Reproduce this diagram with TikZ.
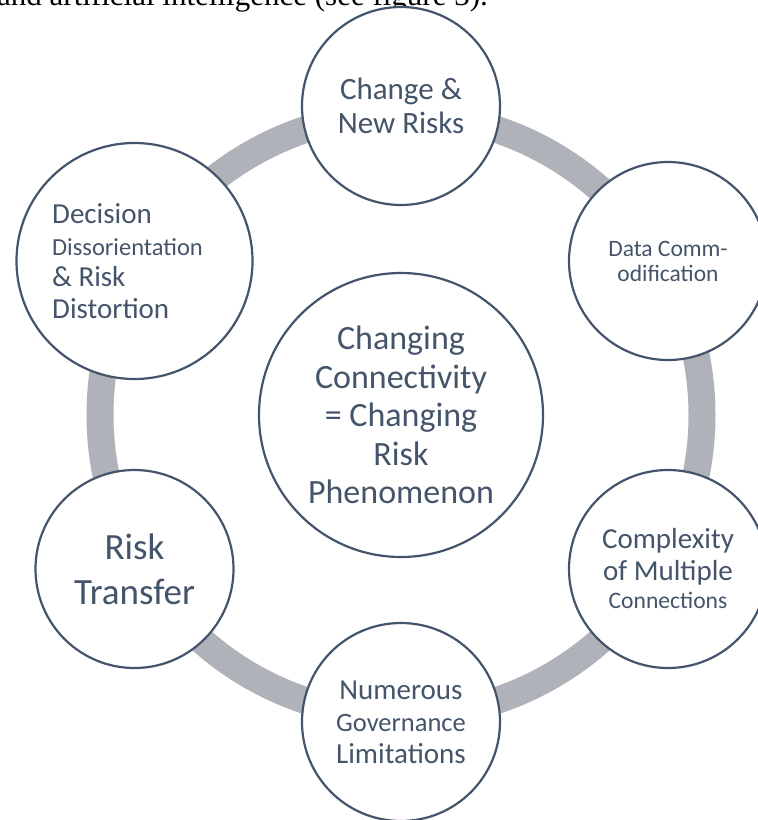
\documentclass[tikz,border=0pt]{standalone}
\usepackage{fontspec}
\setmainfont{Carlito}
\newfontfamily\bodyserif{Liberation Serif}
\definecolor{slate}{HTML}{44546A}
\definecolor{ringgray}{HTML}{AFB2B8}

\begin{document}
\begin{tikzpicture}
  [x=1pt,y=-1pt,
   ring/.style={draw=ringgray,line width=27pt},
   bubble/.style={circle,draw=slate,line width=2.2pt,fill=white,text=slate,align=center,
     inner sep=0pt,minimum size=198pt,font=\fontsize{29}{32}\selectfont}]

  \useasboundingbox (0,0) rectangle (758,820);
  \clip (0,0) rectangle (758,820);

  % running text of the page, cut at the top
  \node[anchor=base east,inner sep=0pt,font=\bodyserif\fontsize{31}{36}\selectfont] (intro) at (488,5)
    {and artificial intelligence (see figure 3).};

  \node[bubble,minimum size=284pt,font=\fontsize{34}{38.5}\selectfont] (hub) at (401,415)
    {Changing\\Connectivity\\= Changing\\Risk\\Phenomenon};

  \draw[ring] (hub.center) circle[radius=301pt];

  \node[bubble,font=\fontsize{31}{34}\selectfont] (b1) at (401,106) {Change \&\\New Risks};
  \node[bubble,font=\fontsize{23.5}{25}\selectfont] (b2) at (668,261) {Data Comm-\\odification};
  \node[bubble] (b3) at (668,569)
    {Complexity\\of Multiple\\[-4pt]{\fontsize{23.6}{25}\selectfont Connections}};
  \node[bubble] (b4) at (401,722)
    {Numerous\\{\fontsize{26.5}{28}\selectfont Governance}\\Limitations};
  \node[bubble,font=\fontsize{37}{45}\selectfont] (b5) at (134.5,569) {Risk\\Transfer};
  \node[bubble,align=left,minimum size=236pt,font=\fontsize{29}{31.7}\selectfont] (b6) at (134.5,261)
    {Decision\\{\fontsize{24.5}{27}\selectfont Dissorientation}\kern14pt\\\& Risk\\Distortion};

\end{tikzpicture}
\end{document}
